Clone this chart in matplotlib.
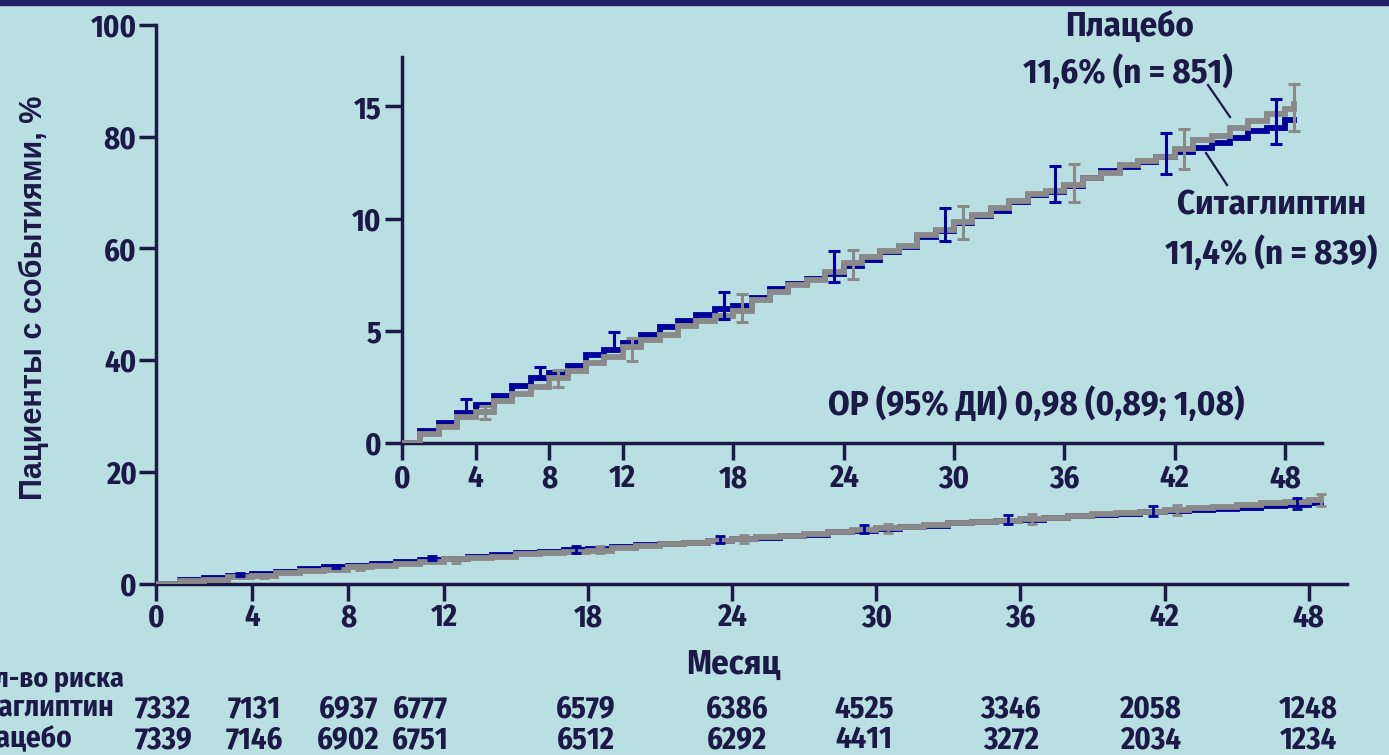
import numpy as np
import matplotlib
matplotlib.use("Agg")
import matplotlib.pyplot as plt
import matplotlib.font_manager as fm
from matplotlib.ft2font import FT2Font
from matplotlib.patches import Rectangle
from matplotlib.transforms import blended_transform_factory

# --- data ---
months = list(range(0, 49)) + [48.5]
sitagliptin = [0, 0.55, 0.9, 1.35, 1.7, 2.1, 2.55, 2.9, 3.12, 3.45,
               3.9, 4.15, 4.45, 4.8, 5.15, 5.45, 5.7, 5.95, 6.1, 6.45,
               6.85, 7.1, 7.3, 7.55, 7.9, 8.15, 8.5, 8.75, 9.2, 9.45,
               9.8, 10.1, 10.35, 10.75, 11.05, 11.2, 11.45, 11.8, 12.1, 12.28,
               12.5, 12.75, 12.95, 13.15, 13.35, 13.6, 13.9, 14.05, 14.4, 14.4]
placebo = [0, 0.4, 0.7, 1.15, 1.4, 1.85, 2.2, 2.5, 2.9, 3.2,
           3.55, 3.85, 4.3, 4.6, 4.8, 5.2, 5.45, 5.65, 5.9, 6.35,
           6.75, 7.05, 7.25, 7.6, 8.0, 8.3, 8.55, 8.8, 9.25, 9.5,
           9.85, 10.15, 10.45, 10.8, 11.1, 11.25, 11.5, 11.8, 12.05, 12.4,
           12.55, 12.75, 13.1, 13.5, 13.7, 14.05, 14.35, 14.65, 14.9, 15.1]

sit_ci_x = [3.5, 7.5, 11.5, 17.5, 23.5, 29.5, 35.5, 41.5, 47.5]
sit_ci_lo = [1.39, 2.84, 4.14, 5.51, 7.18, 9.0, 10.72, 12.0, 13.34]
sit_ci_hi = [1.95, 3.4, 4.93, 6.74, 8.56, 10.45, 12.35, 13.83, 15.35]
pl_ci_x = [4.5, 8.5, 12.5, 18.5, 24.5, 30.5, 36.5, 42.5, 48.5]
pl_ci_lo = [1.05, 2.48, 3.66, 5.4, 7.32, 9.08, 10.74, 12.19, 13.9]
pl_ci_hi = [1.65, 3.25, 4.7, 6.63, 8.62, 10.57, 12.45, 13.98, 15.98]

xticks = [0, 4, 8, 12, 18, 24, 30, 36, 42, 48]
main_yticks = [0, 20, 40, 60, 80, 100]
inset_yticks = [0, 5, 10, 15]

risk_label = "Кол-во риска"
risk_groups = ["Ситаглиптин", "Плацебо"]
risk_sit = [7332, 7131, 6937, 6777, 6579, 6386, 4525, 3346, 2058, 1248]
risk_pl = [7339, 7146, 6902, 6751, 6512, 6292, 4411, 3272, 2034, 1234]
risk_pos = [0.3, 4.1, 8.0, 11.0, 17.9, 24.2, 29.5, 35.6, 41.4, 48.0]

BG = "#b9dfe2"
INK = "#1b1a47"
BLUE = "#00009a"
GREY = "#8a8a8a"
WIDE = ["Liberation Sans", "DejaVu Sans"]


def usable_narrow(f):
    if "Narrow" not in f.name and "Condensed" not in f.name:
        return False
    w = f.weight
    if isinstance(w, str):
        if "bold" not in w.lower():
            return False
    elif w < 600:
        return False
    try:
        return 0x41F in FT2Font(f.fname).get_charmap()
    except Exception:
        return False


# a bold condensed face with Cyrillic, else shrink the normal one
narrow = sorted({f.name for f in fm.fontManager.ttflist if usable_narrow(f)},
                key=lambda n: (0 if n.startswith("Liberation") else 1, n))
if narrow:
    NARROW = [narrow[0], "DejaVu Sans"]
    k = 1.0
else:
    NARROW = WIDE
    k = 0.86

plt.rcParams["font.family"] = NARROW
plt.rcParams["font.weight"] = "bold"

W, H = 1389, 755
fig = plt.figure(figsize=(W / 100, H / 100), dpi=100, facecolor=BG)
fig.patches.append(Rectangle((0, 1 - 5 / H), 1, 5 / H, transform=fig.transFigure,
                             color="#232068", zorder=0))


def style(ax, tl_pad):
    ax.set_facecolor("none")
    for s in ["top", "right"]:
        ax.spines[s].set_visible(False)
    for s in ["left", "bottom"]:
        ax.spines[s].set_linewidth(2.5)
        ax.spines[s].set_color(INK)
    ax.tick_params(length=12, width=2.5, color=INK, labelcolor=INK,
                   labelsize=22 * k, pad=tl_pad)
    for lab in ax.get_xticklabels() + ax.get_yticklabels():
        lab.set_fontweight("bold")


def draw_curves(ax, lw, cap, elw):
    ax.plot(months, sitagliptin, drawstyle="steps-post", color=BLUE, lw=lw,
            solid_joinstyle="miter", zorder=3)
    ax.plot(months, placebo, drawstyle="steps-post", color=GREY, lw=lw,
            solid_joinstyle="miter", zorder=4)
    s_mid = [(a + b) / 2 for a, b in zip(sit_ci_lo, sit_ci_hi)]
    s_err = [(b - a) / 2 for a, b in zip(sit_ci_lo, sit_ci_hi)]
    p_mid = [(a + b) / 2 for a, b in zip(pl_ci_lo, pl_ci_hi)]
    p_err = [(b - a) / 2 for a, b in zip(pl_ci_lo, pl_ci_hi)]
    ax.errorbar(sit_ci_x, s_mid, yerr=s_err, fmt="none", ecolor=BLUE,
                elinewidth=elw, capsize=cap, capthick=elw, zorder=5)
    ax.errorbar(pl_ci_x, p_mid, yerr=p_err, fmt="none", ecolor=GREY,
                elinewidth=elw, capsize=cap, capthick=elw, zorder=6)


# main axes
ax = fig.add_axes([156 / W, 1 - 583.5 / H, (1347 - 156) / W, 558.5 / H])
draw_curves(ax, 4.2, 3.5, 2.0)
ax.set_xlim(0, 49.6)
ax.set_ylim(0, 100)
ax.set_xticks(xticks)
ax.set_yticks(main_yticks)
style(ax, 2)
ax.set_ylabel("Пациенты с событиями, %", fontsize=22, fontweight="bold",
              color=INK, family=WIDE)
ax.yaxis.set_label_coords(-0.09, 0.511)

# inset
ins = fig.add_axes([402 / W, 1 - 443 / H, 920 / W, 386 / H])
draw_curves(ins, 4.2, 4.5, 2.2)
ins.set_xlim(0, 50)
ins.set_ylim(0, 17.2)
ins.set_xticks(xticks)
ins.set_yticks(inset_yticks)
style(ins, 3)

note = dict(transform=fig.transFigure, ha="center", va="center",
            fontsize=25 * k, color=INK)
ins.text(1130 / W, 1 - 27 / H, "Плацебо", **note)
ins.text(1128 / W, 1 - 73 / H, "11,6% (n = 851)", **note)
ins.text(1271 / W, 1 - 205 / H, "Ситаглиптин", **note)
ins.text(1271 / W, 1 - 254 / H, "11,4% (n = 839)", **note)
ins.text(1036 / W, 1 - 405 / H, "ОР (95% ДИ) 0,98 (0,89; 1,08)", **note)
fig.add_artist(plt.Line2D([1208 / W, 1230 / W], [1 - 85 / H, 1 - 117 / H],
                          color=INK, lw=1.6))
fig.add_artist(plt.Line2D([1206 / W, 1227 / W], [1 - 153 / H, 1 - 185 / H],
                          color=INK, lw=1.6))

# x label and risk table
fig.text(733 / W, 1 - 665 / H, "Месяц", ha="center", va="center",
         fontsize=25 * k, color=INK)
fig.text(124 / W, 1 - 679 / H, risk_label, ha="right", va="center",
         fontsize=20 * k, color=INK)
trans = blended_transform_factory(ax.transData, fig.transFigure)
for row, (name, vals, rx) in enumerate(zip(risk_groups, [risk_sit, risk_pl],
                                           [114, 72])):
    yy = 1 - (709 + 31 * row) / H
    fig.text(rx / W, yy, name, ha="right", va="center", fontsize=21 * k,
             color=INK)
    for xpos, v in zip(risk_pos, vals):
        ax.text(xpos, yy, str(v), transform=trans, ha="center", va="center",
                fontsize=22 * k, color=INK, clip_on=False)

fig.savefig("out.png", dpi=100, facecolor=BG)
